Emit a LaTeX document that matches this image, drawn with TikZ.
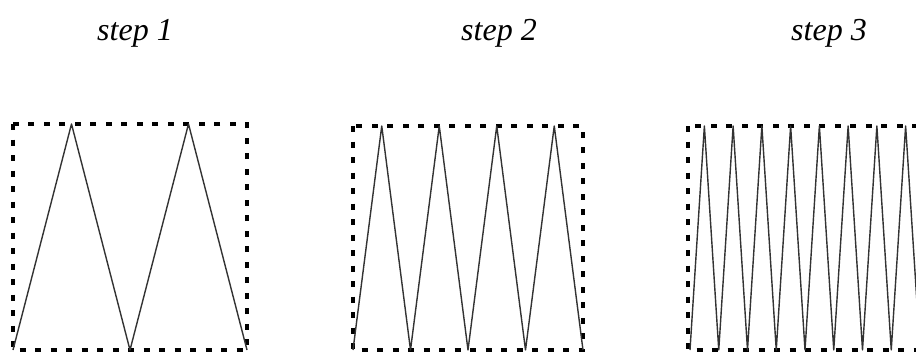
\documentclass[tikz,border=0pt]{standalone}
\usepackage{fontspec}
\setmainfont{Liberation Serif}
\usetikzlibrary{positioning}
\tikzset{
  frame/.style={draw=black, line width=3.2pt, dash pattern=on 6pt off 9.5pt},
  zigzag/.style={draw=black!80, line width=1.4pt, line join=round},
  steplabel/.style={font=\fontsize{32}{32}\selectfont\itshape, anchor=base}
}
\begin{document}
\begin{tikzpicture}[x=1pt, y=-1pt]
\useasboundingbox (0,0) rectangle (916,356);
\clip (0,0) rectangle (916,356);
% labels
\node[steplabel] (lab1) at (135,40) {step 1};
\node[steplabel] (lab2) at (499,40) {step 2};
\node[steplabel] (lab3) at (829,40) {step 3};
% step 1
\draw[frame] (13,124) rectangle (247,350);
\draw[zigzag] (13,350) \foreach \i in {1,2} { -- ++(58.5,-226) -- ++(58.5,226) };
% step 2
\draw[frame] (353,126) rectangle (583,350);
\draw[zigzag] (353,350) \foreach \i in {1,...,4} { -- ++(28.75,-224) -- ++(28.75,224) };
% step 3
\draw[frame] (688,126) rectangle (920,350);
\draw[zigzag] (690,350) \foreach \i in {1,...,8} { -- ++(14.375,-224) -- ++(14.375,224) };
\end{tikzpicture}
\end{document}
